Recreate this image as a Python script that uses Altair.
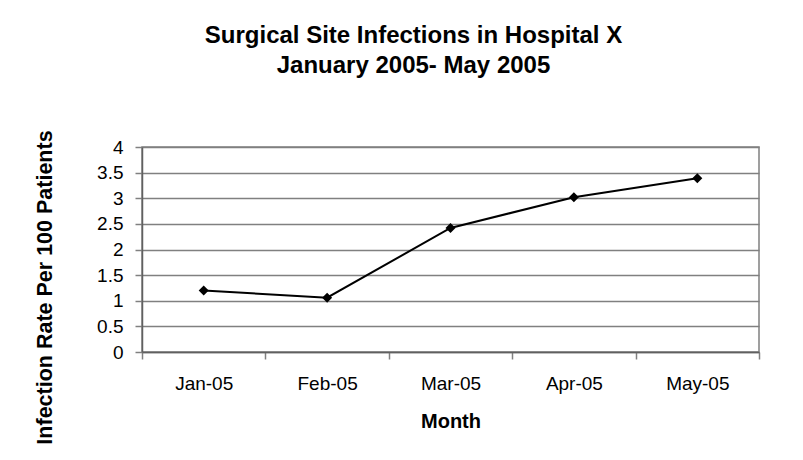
import altair as alt
import pandas as pd

months = ["Jan-05", "Feb-05", "Mar-05", "Apr-05", "May-05"]
rates = [1.20, 1.06, 2.42, 3.02, 3.39]
y_ticks = [0, 0.5, 1, 1.5, 2, 2.5, 3, 3.5, 4]
title_lines = ["Surgical Site Infections in Hospital X", "January 2005- May 2005"]
x_title = "Month"
y_title = "Infection Rate Per 100 Patients"

df = pd.DataFrame({"Month": months, "Rate": rates})

FONT = "Liberation Sans, Arial, Helvetica, sans-serif"

x_enc = alt.X(
    "Month:N",
    sort=months,
    scale=alt.Scale(type="band", paddingInner=0, paddingOuter=0),
    axis=alt.Axis(
        title=x_title,
        labelAngle=0,
        tickBand="extent",
        tickSize=7,
        tickColor="#808080",
        tickWidth=1.5,
        domainColor="#606060",
        domainWidth=1.5,
        labelFontSize=19,
        labelColor="#000000",
        labelPadding=15,
        titleFontSize=20,
        titleFontWeight="bold",
        titleColor="#000000",
        titlePadding=18,
        grid=False,
    ),
)

y_enc = alt.Y(
    "Rate:Q",
    scale=alt.Scale(domain=[0, 4], nice=False, zero=True),
    axis=alt.Axis(
        title=y_title,
        values=y_ticks,
        format="~g",
        tickSize=7,
        tickColor="#808080",
        tickWidth=1.5,
        domainColor="#606060",
        domainWidth=1.5,
        labelFontSize=19,
        labelColor="#000000",
        labelPadding=12,
        titleFontSize=21.5,
        titleFontWeight="bold",
        titleColor="#000000",
        titlePadding=40,
        titleY=140,
        grid=True,
        gridColor="#808080",
        gridWidth=1.5,
    ),
)

line = alt.Chart(df).mark_line(color="#000000", strokeWidth=2).encode(x=x_enc, y=y_enc)
points = alt.Chart(df).mark_point(
    shape="diamond", filled=True, color="#000000", size=100, opacity=1
).encode(x=x_enc, y=y_enc)

chart = (
    alt.layer(line, points)
    .properties(
        width=617,
        height=205,
        autosize=alt.AutoSizeParams(type="none"),
        padding={"left": 134, "top": 139, "right": 36, "bottom": 104},
        title=alt.TitleParams(
            text=title_lines,
            fontSize=24,
            fontWeight="bold",
            color="#000000",
            anchor="middle",
            dx=-37,
            offset=52,
            lineHeight=30,
        ),
    )
    .configure(font=FONT, background="#ffffff")
    .configure_view(stroke="#808080", strokeWidth=1.5)
)

chart.save("out.html", embed_options={"renderer": "svg", "actions": False})
